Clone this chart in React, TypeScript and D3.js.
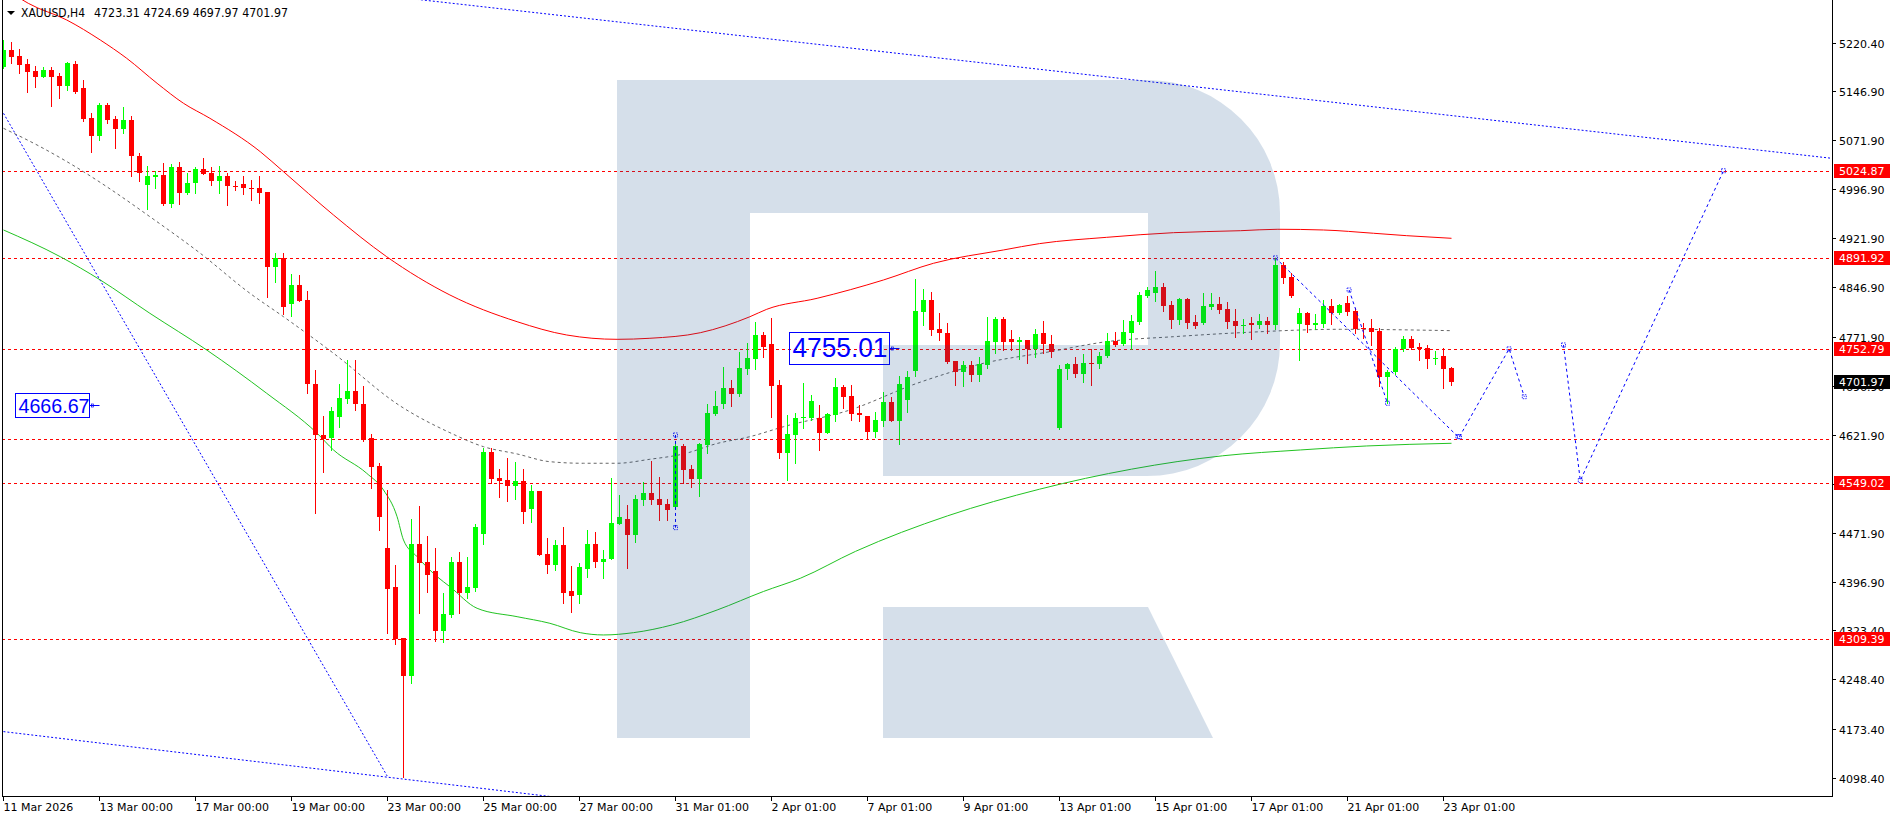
import React from "react";
import * as d3 from "d3";

// ---------- DATA (XAUUSD H4) ----------
const opens = [5183.8,5209.3,5200.1,5187.9,5177.7,5168.5,5178.7,5169.6,5154.3,5187.9,5150.8,5105.0,5078.4,5125.3,5103.9,5088.7,5102.4,5047.5,5003.2,5015.9,5018.5,4974.2,5030.2,4991.4,5005.8,5027.2,5021.0,5009.8,5016.9,5002.1,5004.7,4998.6,4998.6,4992.0,4878.5,4892.2,4821.5,4850.5,4827.6,4699.0,4621.6,4616.5,4649.5,4676.5,4688.7,4668.9,4616.5,4574.2,4449.5,4390.0,4311.2,4253.7,4455.2,4427.7,4414.0,4322.8,4346.8,4427.2,4380.8,4388.5,4470.4,4596.1,4556.4,4552.9,4544.2,4551.3,4508.6,4536.1,4439.9,4423.1,4453.6,4383.4,4377.3,4417.0,4455.2,4428.2,4431.8,4485.7,4492.9,4468.9,4522.3,4533.5,4523.4,4515.8,4512.1,4605.2,4569.2,4554.4,4606.3,4653.6,4668.9,4692.9,4684.2,4722.3,4737.6,4774.2,4760.5,4697.9,4594.5,4621.6,4647.1,4648.0,4648.0,4624.2,4652.1,4695.3,4681.1,4654.7,4650.6,4626.6,4643.4,4671.9,4643.4,4675.0,4719.7,4809.8,4827.6,4783.4,4777.7,4734.5,4718.2,4728.4,4713.2,4728.4,4764.0,4798.6,4768.1,4764.0,4766.6,4752.4,4776.8,4760.0,4631.8,4721.9,4729.9,4714.7,4731.0,4729.9,4742.2,4765.1,4760.0,4777.7,4794.5,4834.2,4838.8,4847.0,4820.0,4797.1,4829.2,4793.6,4792.1,4817.4,4821.5,4813.9,4795.6,4788.4,4792.1,4789.5,4795.6,4789.5,4881.1,4862.3,4791.0,4807.3,4789.5,4791.0,4818.5,4807.3,4822.6,4810.8,4785.4,4785.4,4780.8,4710.6,4718.2,4752.4,4768.1,4756.4,4754.8,4737.1,4742.6,4723.31];
const highs = [5224.5,5221.0,5210.3,5195.1,5185.3,5182.9,5182.9,5174.6,5190.9,5192.5,5163.5,5112.6,5127.9,5127.9,5108.5,5122.7,5108.5,5051.6,5032.2,5025.0,5036.3,5034.8,5038.3,5021.0,5031.1,5043.9,5030.2,5032.2,5021.0,5009.3,5016.9,5010.8,5016.9,4992.0,4898.9,4898.9,4867.3,4865.8,4841.8,4720.8,4650.6,4664.8,4699.0,4736.1,4736.1,4696.4,4623.1,4578.4,4537.6,4423.1,4311.7,4492.9,4513.2,4467.4,4449.5,4380.8,4434.9,4443.0,4434.9,4485.7,4601.3,4602.2,4569.2,4586.9,4580.8,4569.7,4545.2,4536.1,4463.9,4461.3,4480.7,4421.6,4425.7,4476.6,4473.0,4446.0,4555.5,4530.0,4514.7,4530.0,4550.3,4582.3,4557.0,4523.4,4609.3,4607.4,4575.8,4609.8,4668.9,4689.2,4725.8,4705.5,4748.7,4762.5,4794.5,4779.3,4799.7,4705.5,4652.1,4654.7,4700.5,4682.6,4667.4,4654.7,4708.1,4697.9,4697.9,4667.4,4650.6,4657.1,4687.7,4680.0,4711.6,4719.7,4859.2,4844.0,4840.3,4808.3,4793.0,4734.5,4734.5,4734.5,4740.6,4802.1,4802.1,4802.1,4781.8,4770.7,4766.6,4782.9,4795.6,4774.2,4728.4,4731.9,4741.1,4745.2,4752.4,4748.7,4776.8,4779.3,4797.1,4804.7,4840.3,4847.0,4871.9,4853.1,4826.6,4830.2,4830.2,4804.7,4838.8,4838.8,4831.8,4825.0,4813.4,4798.2,4801.2,4806.3,4801.2,4891.9,4886.1,4869.3,4815.0,4809.8,4806.3,4827.6,4828.7,4821.5,4833.7,4815.0,4792.1,4798.2,4784.4,4720.8,4756.4,4772.7,4772.7,4761.5,4758.9,4749.8,4754.8,4724.69];
const lows = [5181.8,5189.9,5174.6,5145.6,5153.2,5167.6,5123.8,5135.5,5148.2,5144.1,5101.3,5054.0,5071.9,5098.3,5060.1,5082.1,5016.9,5009.8,4967.0,4998.1,4972.2,4970.1,4973.7,4989.4,4990.5,5020.0,5003.2,4990.5,4972.7,4995.6,4989.4,4980.3,4976.2,4832.7,4855.6,4806.3,4803.2,4826.6,4686.1,4503.0,4565.5,4598.7,4634.2,4670.0,4659.7,4612.4,4540.2,4476.6,4319.8,4302.5,4099.1,4242.5,4350.3,4382.4,4307.6,4306.0,4343.3,4350.3,4372.3,4383.9,4455.2,4548.7,4527.4,4521.3,4524.3,4486.8,4489.2,4438.4,4411.4,4415.5,4365.6,4351.8,4365.6,4404.3,4420.5,4403.7,4431.8,4485.7,4419.0,4458.7,4514.7,4515.8,4491.8,4491.8,4510.1,4547.8,4542.7,4528.9,4594.5,4652.1,4662.3,4665.8,4681.6,4714.7,4721.9,4741.1,4649.5,4586.0,4552.9,4579.3,4631.8,4644.5,4598.7,4624.2,4643.4,4662.3,4644.5,4643.4,4615.0,4619.0,4635.3,4643.4,4607.8,4657.1,4711.6,4789.5,4774.2,4766.6,4731.9,4697.9,4696.4,4704.5,4704.5,4723.4,4746.3,4751.3,4751.3,4737.1,4731.0,4741.1,4746.3,4741.1,4630.3,4706.6,4710.6,4702.0,4697.9,4723.4,4741.1,4757.4,4758.9,4752.4,4791.0,4831.8,4826.6,4811.3,4785.4,4790.5,4785.4,4784.4,4791.0,4813.4,4807.3,4784.4,4771.6,4777.7,4767.6,4784.4,4777.7,4782.9,4854.1,4831.8,4736.1,4779.3,4782.9,4786.0,4791.0,4806.3,4804.7,4776.8,4769.2,4758.9,4696.4,4670.9,4714.7,4750.3,4752.4,4736.1,4724.3,4729.5,4693.8,4697.97];
const closes = [5209.3,5199.0,5186.4,5176.1,5168.5,5178.7,5168.5,5154.3,5189.0,5145.6,5103.9,5078.4,5125.3,5102.4,5088.7,5102.4,5047.5,5021.0,5016.9,5018.5,4974.2,5030.2,4990.5,5006.7,5027.2,5020.0,5009.8,5016.9,5002.1,5000.6,4998.1,4997.5,4991.4,4878.5,4892.2,4817.4,4850.5,4826.6,4699.0,4621.6,4615.5,4658.2,4678.5,4688.7,4668.4,4613.9,4573.2,4496.9,4386.5,4309.7,4253.7,4455.2,4426.6,4408.3,4322.8,4348.3,4427.2,4380.8,4390.0,4480.7,4596.1,4554.4,4551.3,4543.7,4551.3,4504.5,4536.1,4438.4,4423.1,4453.6,4380.8,4375.8,4419.6,4455.2,4428.2,4432.3,4486.8,4495.9,4468.9,4523.4,4532.6,4522.3,4514.7,4507.1,4605.2,4568.1,4554.4,4607.8,4654.7,4665.8,4692.9,4684.2,4723.4,4738.6,4774.2,4756.4,4696.4,4594.5,4623.6,4647.5,4649.5,4673.5,4625.1,4653.6,4695.3,4680.0,4653.6,4652.1,4626.6,4644.5,4671.9,4643.4,4699.0,4710.6,4811.3,4827.6,4781.8,4777.7,4733.5,4718.2,4728.4,4713.2,4729.9,4765.1,4798.6,4764.0,4764.0,4766.6,4752.4,4775.7,4759.7,4748.7,4721.9,4729.9,4714.7,4731.0,4730.4,4742.6,4765.1,4758.9,4778.3,4795.6,4835.3,4842.9,4847.0,4818.9,4797.1,4829.2,4793.0,4788.0,4818.5,4821.5,4812.4,4794.5,4788.4,4789.5,4789.5,4795.6,4789.5,4881.1,4861.7,4833.7,4807.3,4789.5,4792.1,4818.5,4807.3,4820.0,4809.8,4782.9,4784.4,4779.3,4710.6,4718.2,4752.4,4768.1,4754.8,4752.4,4737.1,4739.6,4722.3,4701.97];

// indicator curves: [bar index, price]
const redBand: [number, number][] = [[0,5305],[3.1,5280.5],[7.9,5255.1],[12.1,5224.5],[15.4,5196.6],[19.2,5158.4],[22.5,5127.9],[25.8,5105],[32.1,5054],[35,5023.5],[41.25,4957.4],[47.9,4893.7],[55.8,4835.3],[64.2,4794.5],[70.4,4774.2],[76.7,4767.6],[80.8,4769.2],[87.1,4777.7],[93.3,4802.1],[95.4,4813.4],[101.7,4830.2],[110,4858.2],[116.25,4883.7],[125,4904],[129.5,4913.7],[137.9,4923.3],[146.25,4930.4],[154.6,4933.4],[159.3,4935.6],[165,4934.5],[171.25,4929.5],[175.4,4925.8],[181,4921.8]];
const grayMA: [number, number][] = [[0,5089.7],[4.6,5061.6],[10,5023.5],[12.9,5000.6],[18.3,4954.8],[24.6,4898.9],[30.8,4837.9],[35,4802.1],[41.25,4746.3],[49.6,4665.8],[55.8,4625.1],[60,4603.7],[64.2,4592.6],[68.3,4580.8],[72.5,4578.4],[76.7,4578.4],[80.8,4584.5],[85,4592.6],[89.2,4608.6],[93.3,4619],[97.5,4634.2],[105.8,4659.7],[114.2,4700.5],[122.5,4731],[130.8,4748.7],[137.9,4764],[146.25,4771.6],[154.6,4777.7],[167.1,4782.9],[181,4780.8]];
const greenBand: [number, number][] = [[0,4934.5],[7.1,4893.7],[12.1,4858.2],[18.3,4807.3],[25.4,4751.3],[32.9,4685.2],[39.2,4624.2],[41.25,4598.7],[45.4,4563.1],[47.5,4537.6],[49.2,4496.8],[50,4461.3],[51.7,4435.8],[54.2,4405.3],[55.8,4390],[59.2,4357],[64.2,4344.2],[68.3,4334.1],[72.1,4319.8],[75,4316.3],[78.75,4319.8],[83.6,4331.7],[89.2,4354.4],[95,4382.7],[99.6,4402.8],[106.5,4443.9],[118,4498.1],[129.5,4538.8],[141,4569.4],[152.4,4589.8],[162.1,4598.7],[170.4,4604.8],[181,4608.9]];

// horizontal levels
const levels = [5024.87, 4891.92, 4752.79, 4615.0, 4549.02, 4309.39];
const labeledLevels = [5024.87, 4891.92, 4752.79, 4549.02, 4309.39];
const lastPrice = 4701.97;

// trend lines & forecast zigzags: [bar index, price]
const trendTop: [number, number][] = [[0,5357.5],[229,5043.3]];
const trendBottom: [number, number][] = [[-1,4170.2],[70,4067.3]];
const trendDiag: [number, number][] = [[-1,5133.7],[47.96,4101.0]];
const zigzags: [number, number][][] = [
  [[159,4891.9],[181.8,4619]],
  [[168.2,4842.9],[173,4670]],
  [[182,4619],[188.2,4753],[190.1,4680]],
  [[195,4759],[197.1,4552],[215,5024.87]],
  [[84,4621.6],[84,4480.1]],
];

// text labels
const priceTags = [{ bar: 112, price: 4755.01, text: "4755.01", w: 100, h: 32, fs: 27, tl: 95 }, { bar: 12, price: 4666.67, text: "4666.67", w: 74, h: 24, fs: 20, tl: 71 }];

// axes
const yTicks = [5220.40,5146.90,5071.90,4996.90,4921.90,4846.90,4771.90,4696.90,4621.90,4546.90,4471.90,4396.90,4323.40,4248.40,4173.40,4098.40];
const xTickBars = [0,12,24,36,48,60,72,84,96,108,120,132,144,156,168,180];
const xTickLabels = ["11 Mar 2026","13 Mar 00:00","17 Mar 00:00","19 Mar 00:00","23 Mar 00:00","25 Mar 00:00","27 Mar 00:00","31 Mar 01:00","2 Apr 01:00","7 Apr 01:00","9 Apr 01:00","13 Apr 01:00","15 Apr 01:00","17 Apr 01:00","21 Apr 01:00","23 Apr 01:00"];
const headerSymbol = "XAUUSD,H4";
const headerValues = "4723.31 4724.69 4697.97 4701.97";

// ---------- LAYOUT ----------
const W = 1896, H = 820;
const PL = 2, PR = 1832, PB = 796;
const FONT = "'DejaVu Sans', Tahoma, sans-serif";
const BULL = "#00ff00", BEAR = "#ff0000";

export default function App() {
  const x = d3.scaleLinear().domain([0, 1]).range([3, 11]);
  const y = d3.scaleLinear().domain([5220.4, 4098.4]).range([42.7, 777.7]);
  const curve = d3.line<[number, number]>().x(d => x(d[0]) + 0.5).y(d => y(d[1])).curve(d3.curveMonotoneX);
  const straight = d3.line<[number, number]>().x(d => x(d[0]) + 0.5).y(d => y(d[1]));

  return (
    <div style={{ position: "fixed", left: 0, top: 0, width: W, height: H, background: "#fff" }}>
      <svg width={W} height={H} style={{ display: "block" }}>
        <defs>
          <clipPath id="plot"><rect x={PL + 1} y={0} width={PR - PL - 1} height={PB} /></clipPath>
        </defs>
        <rect width={W} height={H} fill="#fff" />
        <g clipPath="url(#plot)">
          {levels.map((p, k) => (
            <line key={"lv" + k} x1={PL} x2={PR} y1={Math.round(y(p)) + 0.5} y2={Math.round(y(p)) + 0.5} stroke="#ff0000" strokeDasharray="3,3" />
          ))}
          {[trendTop, trendBottom, trendDiag].map((l, k) => (
            <path key={"tl" + k} d={straight(l) || ""} fill="none" stroke="#0000ff" strokeDasharray="2,2" />
          ))}
          <path d={curve(redBand) || ""} fill="none" stroke="#ff0000" strokeWidth={1} />
          <path d={curve(greenBand) || ""} fill="none" stroke="#22c322" strokeWidth={1} />
          <path d={curve(grayMA) || ""} fill="none" stroke="#666666" strokeWidth={1} strokeDasharray="3,3" />
          {opens.map((o, i) => {
            const c = closes[i];
            const up = c >= o;
            const cx = Math.round(x(i));
            const top = Math.round(y(Math.max(o, c)));
            const bot = Math.round(y(Math.min(o, c)));
            const col = up ? BULL : BEAR;
            return (
              <g key={"c" + i}>
                <line x1={cx + 0.5} x2={cx + 0.5} y1={Math.round(y(highs[i]))} y2={Math.round(y(lows[i])) + 1} stroke={col} />
                <rect x={cx - 2} y={top} width={5} height={Math.max(1, bot - top)} fill={col} />
              </g>
            );
          })}
          {zigzags.map((z, k) => (
            <g key={"z" + k}>
              <path d={straight(z) || ""} fill="none" stroke="#0000ff" strokeDasharray="3,3" />
              {z.map((pt, j) => (
                <rect key={j} x={x(pt[0]) - 1.5} y={y(pt[1]) - 2} width={4} height={4} fill="none" stroke="#0000ff" strokeWidth={0.8} strokeDasharray="1.5,1" />
              ))}
            </g>
          ))}
          {priceTags.map((t, k) => {
            const ax = x(t.bar) + 0.5, ay = y(t.price);
            return (
              <g key={"pt" + k}>
                <rect x={ax - 10 - t.w} y={Math.round(ay - t.h / 2) + 0.5} width={t.w} height={t.h} fill="none" stroke="#0000ff" />
                <text x={ax - 10 - t.w + 3} y={ay + t.fs * 0.36} fontFamily="'Liberation Sans', Arial, sans-serif" fontSize={t.fs} fill="#0000ff" textLength={t.tl} lengthAdjust="spacingAndGlyphs">{t.text}</text>
                <line x1={ax - 10} x2={ax} y1={Math.round(ay) + 0.5} y2={Math.round(ay) + 0.5} stroke="#0000ff" />
                <rect x={ax - 8} y={Math.round(ay) - 1} width={2} height={3} fill="none" stroke="#0000ff" strokeWidth={0.7} />
              </g>
            );
          })}
          {/* watermark, drawn over the chart with transparency */}
          <g fill="rgb(22,77,138)" fillOpacity={0.18}>
            <path d="M617,80 H1147 A133,133 0 0 1 1280,213 V343 A133,133 0 0 1 1147,476 H883 V345 H1148 V213 H750 V738 H617 Z" />
            <path d="M883,607 H1148 L1213,738 H883 Z" />
          </g>
        </g>
        {/* frame */}
        <line x1={PL + 0.5} x2={PL + 0.5} y1={0} y2={PB + 1} stroke="#000" />
        <line x1={PR + 0.5} x2={PR + 0.5} y1={0} y2={PB + 1} stroke="#000" />
        <line x1={PL} x2={PR + 1} y1={PB + 0.5} y2={PB + 0.5} stroke="#000" />
        {/* header */}
        <path d="M7,11 L15,11 L11,15 Z" fill="#000" />
        <text x={21} y={17} fontFamily={FONT} fontSize={11.5} fill="#000" textLength={64} lengthAdjust="spacingAndGlyphs">{headerSymbol}</text>
        <text x={94} y={17} fontFamily={FONT} fontSize={11.5} fill="#000" textLength={194} lengthAdjust="spacingAndGlyphs">{headerValues}</text>
        {/* price axis */}
        {yTicks.map((t, k) => {
          const yy = Math.round(y(t)) + 0.5;
          return (
            <g key={"yt" + k}>
              <line x1={PR} x2={PR + 4} y1={yy} y2={yy} stroke="#000" />
              <text x={1839} y={yy + 4} fontFamily={FONT} fontSize={11} fill="#000">{t.toFixed(2)}</text>
            </g>
          );
        })}
        {labeledLevels.map((p, k) => {
          const yy = Math.round(y(p));
          return (
            <g key={"ll" + k}>
              <rect x={1834} y={yy - 7} width={56} height={14} fill="#ff0000" />
              <text x={1839} y={yy + 4} fontFamily={FONT} fontSize={11} fill="#fff">{p.toFixed(2)}</text>
            </g>
          );
        })}
        <rect x={1834} y={Math.round(y(lastPrice)) - 7} width={56} height={14} fill="#000" />
        <text x={1839} y={Math.round(y(lastPrice)) + 4} fontFamily={FONT} fontSize={11} fill="#fff">{lastPrice.toFixed(2)}</text>
        {/* time axis */}
        {xTickBars.map((b, k) => {
          const xx = Math.round(x(b)) + 0.5;
          return (
            <g key={"xt" + k}>
              <line x1={xx} x2={xx} y1={PB} y2={PB + 5} stroke="#000" />
              <text x={xx} y={811} fontFamily={FONT} fontSize={11} fill="#000">{xTickLabels[k]}</text>
            </g>
          );
        })}
      </svg>
    </div>
  );
}
